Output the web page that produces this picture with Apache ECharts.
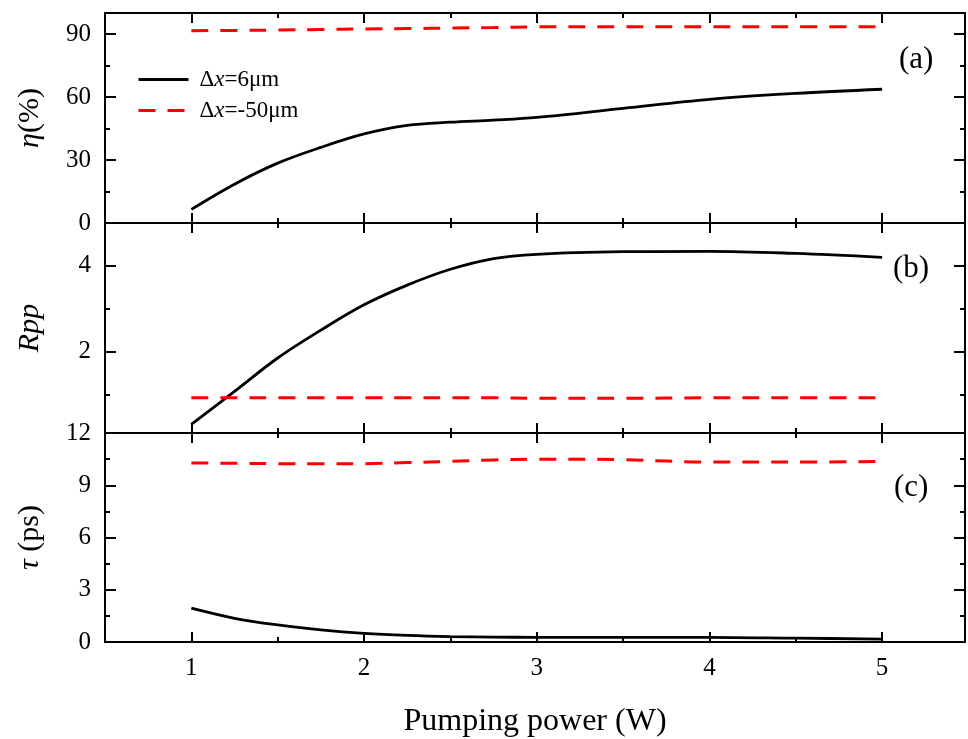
<!DOCTYPE html>
<html lang="en">
<head>
    <meta charset="UTF-8">
    <title>Pumping power</title>
    <script type="text/javascript" src="https://cdn.jsdelivr.net/npm/echarts@6/dist/echarts.min.js"></script>
    <style>html,body{margin:0;padding:0;background:#fff;}</style>
</head>
<body>
<div id="chartmain" style="width:968px;height:739px"></div>
<script>
    // pumping power (W), read at the same points for every curve
    var power = [1, 1.25, 1.5, 1.75, 2, 2.25, 2.5, 2.75, 3, 3.5, 4, 4.5, 5];

    // (a) efficiency eta (%)
    var eta6 = [6.5, 18.5, 28.5, 36, 42.4, 46.5, 48, 49, 50.3, 54.6, 58.9, 61.7, 63.7];
    var eta50 = [91.6, 91.7, 91.9, 92.1, 92.4, 92.6, 92.8, 93.1, 93.4, 93.5, 93.5, 93.5, 93.5];
    // (b) Rpp
    var rpp6 = [0.30, 1.07, 1.85, 2.5, 3.09, 3.55, 3.92, 4.17, 4.27, 4.33, 4.34, 4.29, 4.2];
    var rpp50 = [0.92, 0.92, 0.92, 0.92, 0.92, 0.92, 0.92, 0.92, 0.91, 0.91, 0.92, 0.92, 0.92];
    // (c) pulse width tau (ps)
    var tau6 = [1.94, 1.36, 0.98, 0.7, 0.5, 0.38, 0.31, 0.28, 0.27, 0.27, 0.27, 0.22, 0.17];
    var tau50 = [10.28, 10.26, 10.24, 10.24, 10.24, 10.3, 10.37, 10.45, 10.5, 10.47, 10.33, 10.33, 10.37];

    var names = ['Δx=6μm', 'Δx=-50μm'];

    // ticks
    var xTicks = [1, 2, 3, 4, 5];
    var xMinor = [1.5, 2.5, 3.5, 4.5];
    var etaTicks = [0, 30, 60, 90];
    var etaMinor = [15, 45, 75];
    var rppTicks = [2, 4];
    var rppMinor = [1, 3];
    var tauTicks = [0, 3, 6, 9, 12];
    var tauMinor = [1.5, 4.5, 7.5, 10.5];

    var serif = 'Liberation Serif';
    var ink = {color: '#000', width: 2};

    var panels = [
        {top: 13, height: 210, min: 0, max: 100, ticks: etaTicks, minor: etaMinor,
            name: '{i|η}{n|(%)}', tag: '(a)', tagX: 899, tagY: 61, a: eta6, b: eta50},
        {top: 223, height: 210, min: 0.1, max: 5, ticks: rppTicks, minor: rppMinor,
            name: '{i|Rpp}', tag: '(b)', tagX: 893, tagY: 270, a: rpp6, b: rpp50},
        {top: 433, height: 209, min: 0, max: 12, ticks: tauTicks, minor: tauMinor,
            name: '{i|τ}{n| (ps)}', tag: '(c)', tagX: 894, tagY: 489, a: tau6, b: tau50}
    ];

    function pairs(xs, ys) {
        var out = [];
        for (var i = 0; i < xs.length; i++) out.push([xs[i], ys[i]]);
        return out;
    }

    var grids = [], xAxes = [], yAxes = [], series = [], tags = [];

    for (var p = 0; p < panels.length; p++) {
        var pn = panels[p];
        grids.push({left: 105, width: 860, top: pn.top, height: pn.height, containLabel: false});

        ['bottom', 'top'].forEach(function (pos) {
            var isLabelled = (p === 2 && pos === 'bottom');
            xAxes.push({
                gridIndex: p, type: 'value', position: pos, min: 0.5, max: 5.48,
                axisLine: {show: true, onZero: false, lineStyle: ink},
                axisTick: {show: true, inside: true, length: 10, customValues: xTicks, lineStyle: ink},
                axisLabel: {show: isLabelled, customValues: xTicks, margin: 14,
                    color: '#000', fontFamily: serif, fontSize: 25},
                splitLine: {show: false},
                name: isLabelled ? 'Pumping power (W)' : '',
                nameLocation: 'middle', nameGap: 64,
                nameTextStyle: {color: '#000', fontFamily: serif, fontSize: 32}
            });
            xAxes.push({
                gridIndex: p, type: 'value', position: pos, min: 0.5, max: 5.48,
                axisLine: {show: false, onZero: false},
                axisTick: {show: true, inside: true, length: 5, customValues: xMinor, lineStyle: ink},
                axisLabel: {show: false},
                splitLine: {show: false}
            });
        });

        ['left', 'right'].forEach(function (pos) {
            var isLabelled = (pos === 'left');
            yAxes.push({
                gridIndex: p, type: 'value', position: pos, min: pn.min, max: pn.max,
                axisLine: {show: true, onZero: false, lineStyle: ink},
                axisTick: {show: true, inside: true, length: 11, customValues: pn.ticks, lineStyle: ink},
                axisLabel: {show: isLabelled, customValues: pn.ticks, margin: 14,
                    color: '#000', fontFamily: serif, fontSize: 25},
                splitLine: {show: false},
                name: isLabelled ? pn.name : '',
                nameLocation: 'middle', nameGap: 60,
                nameTextStyle: {
                    color: '#000', fontFamily: serif, fontSize: 30,
                    rich: {
                        i: {fontFamily: serif, fontSize: 30, fontStyle: 'italic', color: '#000'},
                        n: {fontFamily: serif, fontSize: 30, color: '#000'}
                    }
                }
            });
            yAxes.push({
                gridIndex: p, type: 'value', position: pos, min: pn.min, max: pn.max,
                axisLine: {show: false, onZero: false},
                axisTick: {show: true, inside: true, length: 5, customValues: pn.minor, lineStyle: ink},
                axisLabel: {show: false},
                splitLine: {show: false}
            });
        });

        series.push({
            name: names[0], type: 'line', xAxisIndex: p * 4, yAxisIndex: p * 4,
            data: pairs(power, pn.a), smooth: 0.35, symbol: 'none',
            lineStyle: {color: '#000', width: 2.8}, itemStyle: {color: '#000'}
        });
        series.push({
            name: names[1], type: 'line', xAxisIndex: p * 4, yAxisIndex: p * 4,
            data: pairs(power, pn.b), smooth: 0.35, symbol: 'none',
            lineStyle: {color: '#ff0000', width: 3, type: [17, 12]}, itemStyle: {color: '#ff0000'}
        });

        tags.push({
            type: 'text', left: pn.tagX, top: pn.tagY - 17,
            style: {text: pn.tag, font: '31px "Liberation Serif"', fill: '#000'}
        });
    }

    var option = {
        backgroundColor: '#fff',
        animation: false,
        grid: grids,
        xAxis: xAxes,
        yAxis: yAxes,
        legend: {
            data: names, orient: 'vertical', left: 137, top: 68, padding: 0,
            itemWidth: 50, itemHeight: 14, itemGap: 8,
            itemStyle: {opacity: 0},
            lineStyle: {width: 3},
            formatter: function (name) {
                return '{s|}{n|Δ}{i|x}{n|' + name.slice(2) + '}';
            },
            textStyle: {
                color: '#000', fontFamily: serif, fontSize: 23,
                rich: {
                    s: {width: 6},
                    n: {fontFamily: serif, fontSize: 23, lineHeight: 24, color: '#000'},
                    i: {fontFamily: serif, fontSize: 23, lineHeight: 24, fontStyle: 'italic', color: '#000'}
                }
            }
        },
        graphic: tags,
        series: series
    };

    var myChart = echarts.init(document.getElementById('chartmain'));
    myChart.setOption(option);
</script>
</body>
</html>
